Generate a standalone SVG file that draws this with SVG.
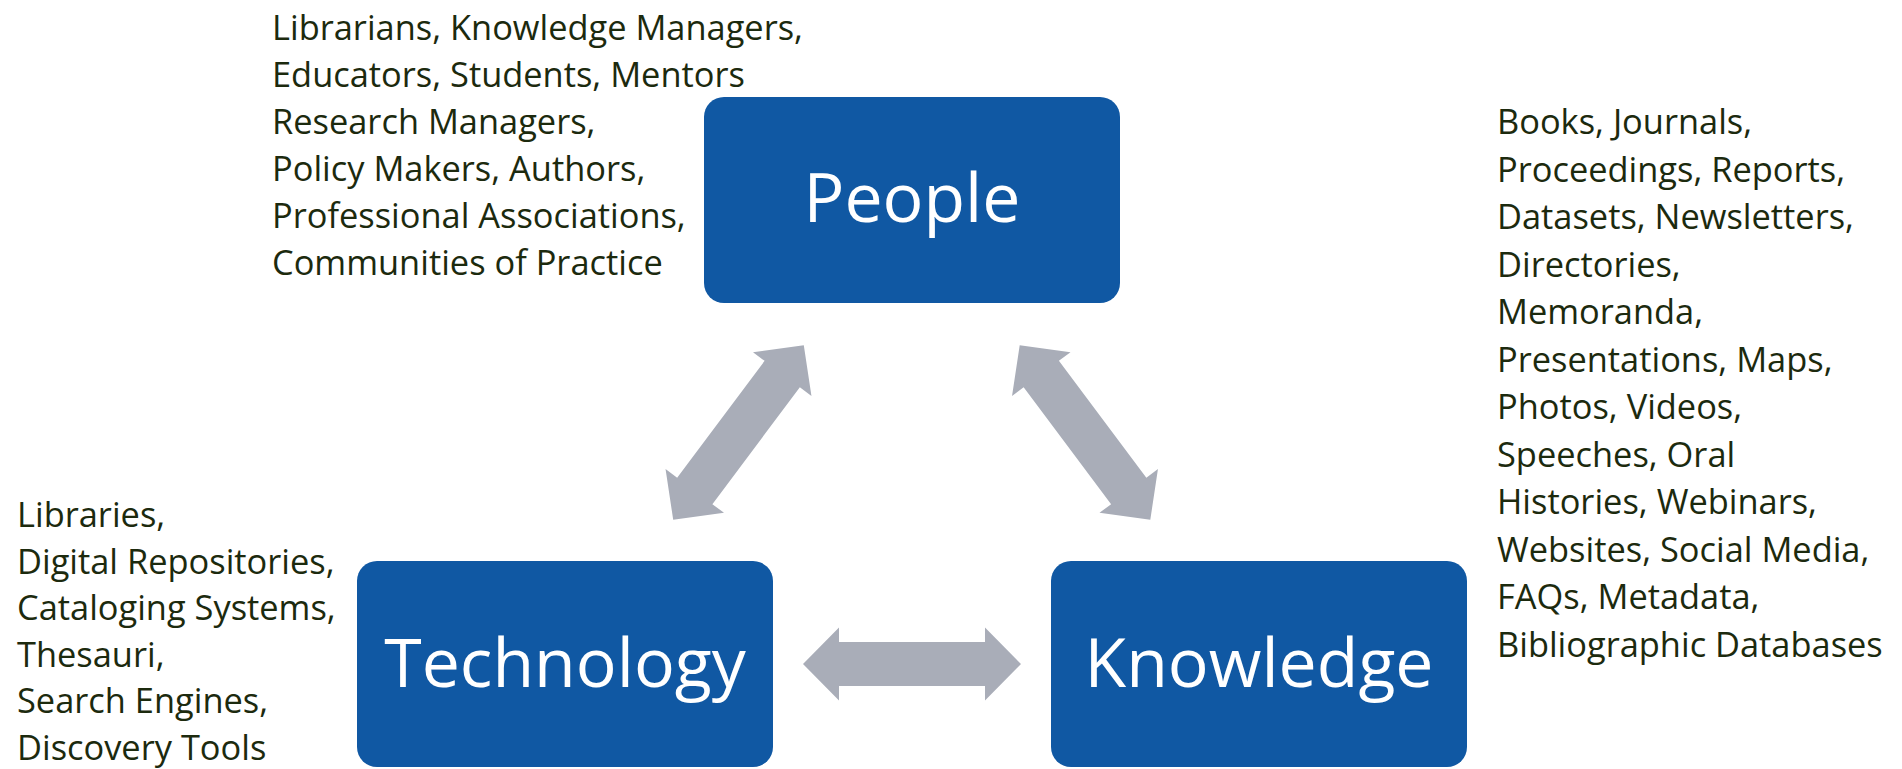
<svg xmlns="http://www.w3.org/2000/svg" width="1902" height="769" viewBox="0 0 1902 769">
<defs>
<style>
.box{fill:#1058A3;}
.lbl{font-family:"Open Sans","Liberation Sans",sans-serif;font-size:68px;fill:#FFFFFF;text-anchor:middle;}
.note{font-family:"Open Sans","Liberation Sans",sans-serif;font-size:34.4px;fill:#1C2A0E;}
.arr{fill:#A9ADB8;}
</style>
<path id="dbl" d="M -109,0 L -73,-36.5 L -73,-22 L 73,-22 L 73,-36.5 L 109,0 L 73,36.5 L 73,22 L -73,22 L -73,36.5 Z"/>
</defs>
<rect width="1902" height="769" fill="#FFFFFF"/>
<g id="connectors">
<use href="#dbl" class="arr" transform="translate(738.5,432.5) rotate(-53.2)"/>
<use href="#dbl" class="arr" transform="translate(1085,432.5) rotate(53.2)"/>
<use href="#dbl" class="arr" transform="translate(912,664)"/>
</g>
<g id="people">
<rect class="box" x="704" y="97" width="416" height="206" rx="20"/>
<text class="lbl" x="912" y="222">People</text>
</g>
<g id="technology">
<rect class="box" x="357" y="561" width="416" height="206" rx="20"/>
<text class="lbl" x="565" y="687">Technology</text>
</g>
<g id="knowledge">
<rect class="box" x="1051" y="561" width="416" height="206" rx="20"/>
<text class="lbl" x="1259" y="687">Knowledge</text>
</g>
<g id="people-notes">
<text class="note" x="272" y="40">Librarians, Knowledge Managers,</text>
<text class="note" x="272" y="87">Educators, Students, Mentors</text>
<text class="note" x="272" y="134">Research Managers,</text>
<text class="note" x="272" y="181">Policy Makers, Authors,</text>
<text class="note" x="272" y="228">Professional Associations,</text>
<text class="note" x="272" y="275">Communities of Practice</text>
</g>
<g id="knowledge-notes">
<text class="note" x="1497" y="134">Books, Journals,</text>
<text class="note" x="1497" y="181.5">Proceedings, Reports,</text>
<text class="note" x="1497" y="229">Datasets, Newsletters,</text>
<text class="note" x="1497" y="276.5">Directories,</text>
<text class="note" x="1497" y="324">Memoranda,</text>
<text class="note" x="1497" y="371.5">Presentations, Maps,</text>
<text class="note" x="1497" y="419">Photos, Videos,</text>
<text class="note" x="1497" y="466.5">Speeches, Oral</text>
<text class="note" x="1497" y="514">Histories, Webinars,</text>
<text class="note" x="1497" y="561.5">Websites, Social Media,</text>
<text class="note" x="1497" y="609">FAQs, Metadata,</text>
<text class="note" x="1497" y="656.5">Bibliographic Databases</text>
</g>
<g id="technology-notes">
<text class="note" x="17" y="527">Libraries,</text>
<text class="note" x="17" y="573.6">Digital Repositories,</text>
<text class="note" x="17" y="620.2">Cataloging Systems,</text>
<text class="note" x="17" y="666.8">Thesauri,</text>
<text class="note" x="17" y="713.4">Search Engines,</text>
<text class="note" x="17" y="760">Discovery Tools</text>
</g>
</svg>
